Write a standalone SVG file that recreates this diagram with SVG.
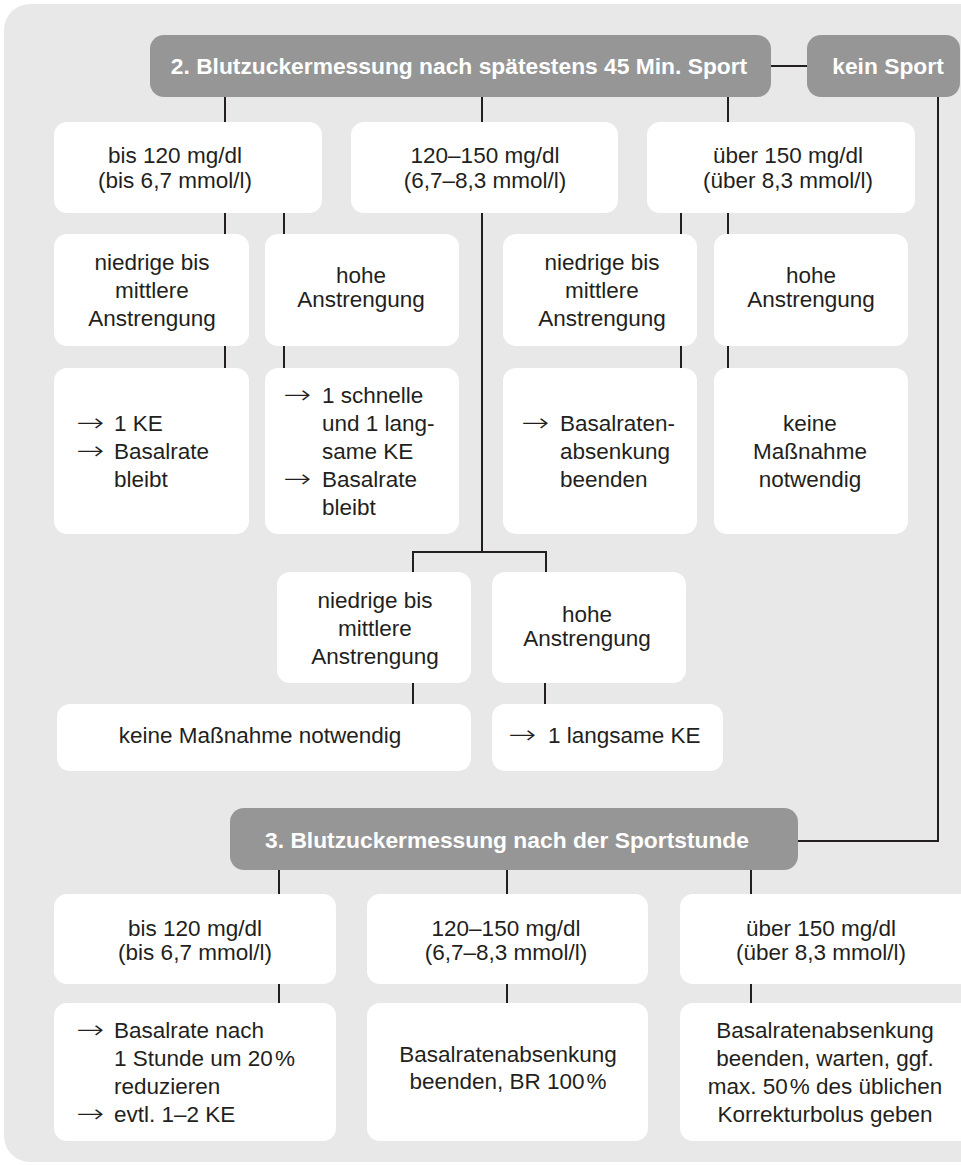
<svg xmlns="http://www.w3.org/2000/svg" width="961" height="1165" viewBox="0 0 961 1165">
<style>
.bg{fill:#e8e8e8}
.hdr{fill:#969696}
.box{fill:#ffffff}
.ln{stroke:#231f20;stroke-width:2;fill:none}
text{font-family:"Liberation Sans",Arial,sans-serif;font-size:22.5px;fill:#231f20}
.c{text-anchor:middle}
.h{font-weight:bold;fill:#ffffff;font-size:22.8px}
.ar{font-family:"DejaVu Sans",sans-serif;font-weight:200;font-size:25px}
</style>
<rect class="bg" x="4" y="4" width="990" height="1158" rx="26"/>
<g id="connectors">
<path class="ln" d="M771,66H807"/>
<path class="ln" d="M938,97V841H798"/>
<path class="ln" d="M225,97V122M482,97V122M728,97V122"/>
<path class="ln" d="M225,213V234M284,213V234M681,213V234M728,213V234"/>
<path class="ln" d="M225,346V368M284,346V368M681,346V368M728,346V368"/>
<path class="ln" d="M482,213V552M413,572V552H546V572"/>
<path class="ln" d="M413,683V704M545,683V704"/>
<path class="ln" d="M279,870V894M507,870V894M751,870V894"/>
<path class="ln" d="M279,984V1003M507,984V1003M751,984V1003"/>
</g>
<g id="header2">
<rect class="hdr" x="150" y="35" width="621" height="62" rx="14"/>
<text class="c h" x="459" y="74">2. Blutzuckermessung nach spätestens 45 Min. Sport</text>
</g>
<g id="keinSport">
<rect class="hdr" x="807" y="35" width="153" height="62" rx="14"/>
<text class="c h" x="888" y="74">kein Sport</text>
</g>
<g id="r1a">
<rect class="box" x="54" y="122" width="268" height="91" rx="13"/>
<text class="c" x="175" y="163">bis 120 mg/dl</text>
<text class="c" x="175" y="188">(bis 6,7 mmol/l)</text>
</g>
<g id="r1b">
<rect class="box" x="351" y="122" width="267" height="91" rx="13"/>
<text class="c" x="485" y="163">120–150 mg/dl</text>
<text class="c" x="485" y="188">(6,7–8,3 mmol/l)</text>
</g>
<g id="r1c">
<rect class="box" x="647" y="122" width="268" height="91" rx="13"/>
<text class="c" x="788" y="163">über 150 mg/dl</text>
<text class="c" x="788" y="188">(über 8,3 mmol/l)</text>
</g>
<g id="r2a">
<rect class="box" x="54" y="234" width="195" height="112" rx="13"/>
<text class="c" x="152" y="270">niedrige bis</text>
<text class="c" x="152" y="298">mittlere</text>
<text class="c" x="152" y="326">Anstrengung</text>
</g>
<g id="r2b">
<rect class="box" x="265" y="234" width="194" height="112" rx="13"/>
<text class="c" x="361" y="283">hohe</text>
<text class="c" x="361" y="307">Anstrengung</text>
</g>
<g id="r2c">
<rect class="box" x="503" y="234" width="194" height="112" rx="13"/>
<text class="c" x="602" y="270">niedrige bis</text>
<text class="c" x="602" y="298">mittlere</text>
<text class="c" x="602" y="326">Anstrengung</text>
</g>
<g id="r2d">
<rect class="box" x="714" y="234" width="194" height="112" rx="13"/>
<text class="c" x="811" y="283">hohe</text>
<text class="c" x="811" y="307">Anstrengung</text>
</g>
<g id="r3a">
<rect class="box" x="54" y="368" width="195" height="166" rx="13"/>
<text class="ar" x="76" y="431" textLength="28" lengthAdjust="spacingAndGlyphs">→</text><text x="114" y="431">1 KE</text>
<text class="ar" x="76" y="459" textLength="28" lengthAdjust="spacingAndGlyphs">→</text><text x="114" y="459">Basalrate</text>
<text x="114" y="487">bleibt</text>
</g>
<g id="r3b">
<rect class="box" x="265" y="368" width="194" height="166" rx="13"/>
<text class="ar" x="283" y="403" textLength="28" lengthAdjust="spacingAndGlyphs">→</text><text x="322" y="403">1 schnelle</text>
<text x="322" y="431">und 1 lang-</text>
<text x="322" y="459">same KE</text>
<text class="ar" x="283" y="487" textLength="28" lengthAdjust="spacingAndGlyphs">→</text><text x="322" y="487">Basalrate</text>
<text x="322" y="515">bleibt</text>
</g>
<g id="r3c">
<rect class="box" x="503" y="368" width="194" height="166" rx="13"/>
<text class="ar" x="521" y="431" textLength="28" lengthAdjust="spacingAndGlyphs">→</text><text x="560" y="431">Basalraten-</text>
<text x="560" y="459">absenkung</text>
<text x="560" y="487">beenden</text>
</g>
<g id="r3d">
<rect class="box" x="714" y="368" width="194" height="166" rx="13"/>
<text class="c" x="810" y="431">keine</text>
<text class="c" x="810" y="459">Maßnahme</text>
<text class="c" x="810" y="487">notwendig</text>
</g>
<g id="m1">
<rect class="box" x="277" y="572" width="194" height="111" rx="13"/>
<text class="c" x="375" y="608">niedrige bis</text>
<text class="c" x="375" y="636">mittlere</text>
<text class="c" x="375" y="664">Anstrengung</text>
</g>
<g id="m2">
<rect class="box" x="492" y="572" width="194" height="111" rx="13"/>
<text class="c" x="587" y="622">hohe</text>
<text class="c" x="587" y="646">Anstrengung</text>
</g>
<g id="m3">
<rect class="box" x="57" y="704" width="414" height="67" rx="13"/>
<text class="c" x="260" y="743">keine Maßnahme notwendig</text>
</g>
<g id="m4">
<rect class="box" x="492" y="704" width="231" height="67" rx="13"/>
<text class="ar" x="508" y="743" textLength="28" lengthAdjust="spacingAndGlyphs">→</text><text x="548" y="743">1 langsame KE</text>
</g>
<g id="header3">
<rect class="hdr" x="230" y="808" width="568" height="62" rx="14"/>
<text class="c h" x="507" y="848">3. Blutzuckermessung nach der Sportstunde</text>
</g>
<g id="b1a">
<rect class="box" x="54" y="894" width="282" height="90" rx="13"/>
<text class="c" x="195" y="936">bis 120 mg/dl</text>
<text class="c" x="195" y="960">(bis 6,7 mmol/l)</text>
</g>
<g id="b1b">
<rect class="box" x="367" y="894" width="281" height="90" rx="13"/>
<text class="c" x="506" y="936">120–150 mg/dl</text>
<text class="c" x="506" y="960">(6,7–8,3 mmol/l)</text>
</g>
<g id="b1c">
<rect class="box" x="680" y="894" width="300" height="90" rx="13"/>
<text class="c" x="821" y="936">über 150 mg/dl</text>
<text class="c" x="821" y="960">(über 8,3 mmol/l)</text>
</g>
<g id="b2a">
<rect class="box" x="54" y="1003" width="282" height="138" rx="13"/>
<text class="ar" x="76" y="1038" textLength="28" lengthAdjust="spacingAndGlyphs">→</text><text x="114" y="1038">Basalrate nach</text>
<text x="114" y="1066">1 Stunde um 20<tspan dx="2">%</tspan></text>
<text x="114" y="1094">reduzieren</text>
<text class="ar" x="76" y="1122" textLength="28" lengthAdjust="spacingAndGlyphs">→</text><text x="114" y="1122">evtl. 1–2 KE</text>
</g>
<g id="b2b">
<rect class="box" x="367" y="1003" width="281" height="138" rx="13"/>
<text class="c" x="508" y="1062">Basalratenabsenkung</text>
<text class="c" x="508" y="1089">beenden, BR 100<tspan dx="2">%</tspan></text>
</g>
<g id="b2c">
<rect class="box" x="680" y="1003" width="300" height="138" rx="13"/>
<text class="c" x="825" y="1038">Basalratenabsenkung</text>
<text class="c" x="825" y="1066">beenden, warten, ggf.</text>
<text class="c" x="825" y="1094">max. 50<tspan dx="2">%</tspan> des üblichen</text>
<text class="c" x="825" y="1122">Korrekturbolus geben</text>
</g>
</svg>
